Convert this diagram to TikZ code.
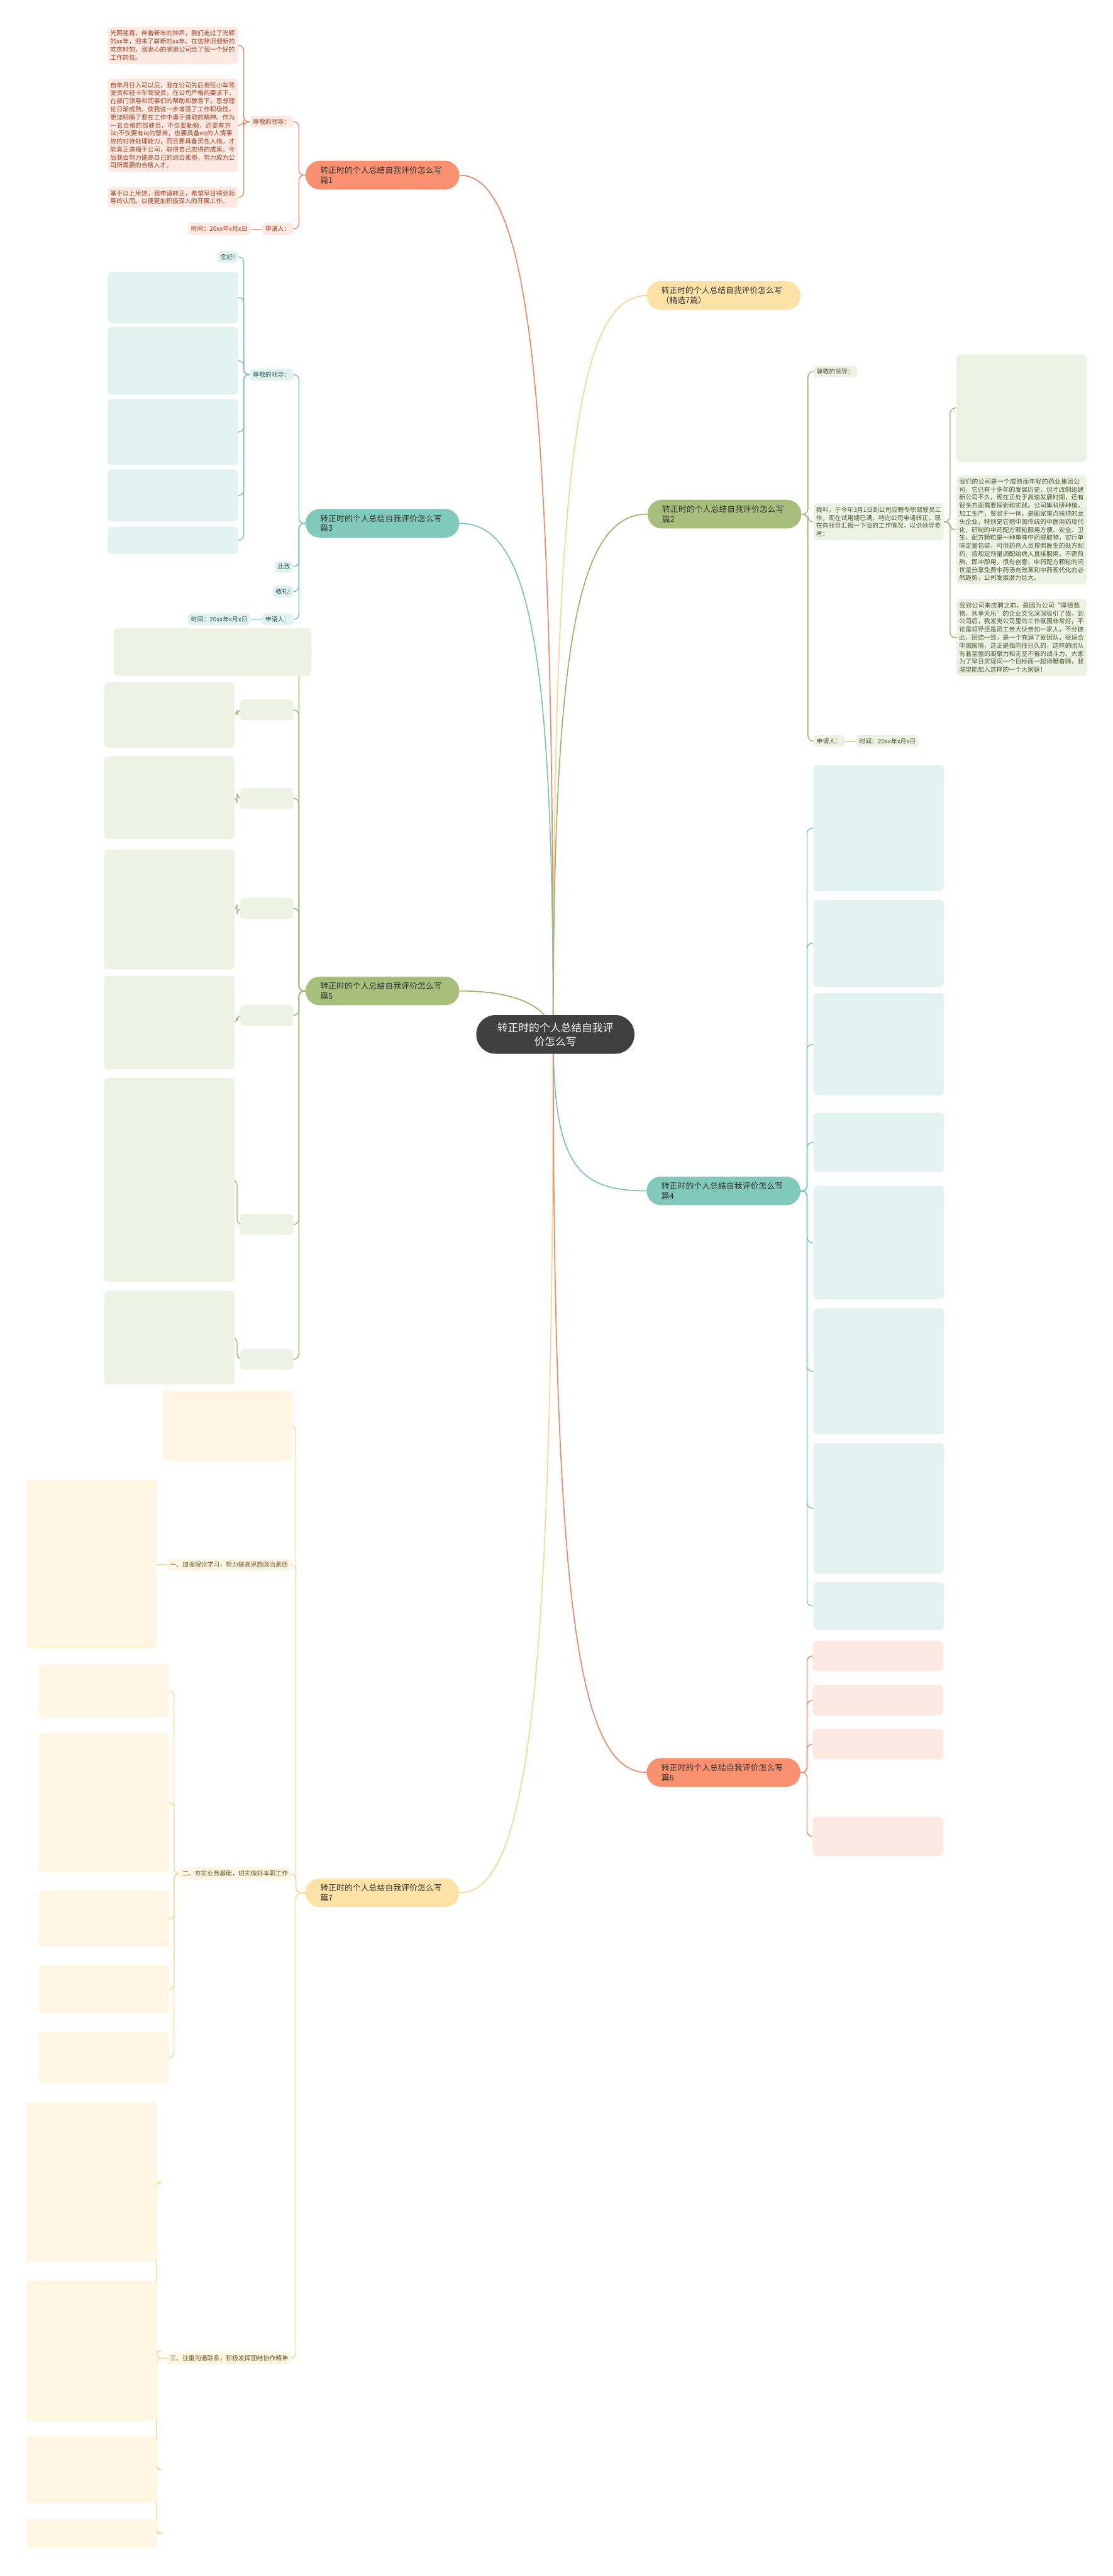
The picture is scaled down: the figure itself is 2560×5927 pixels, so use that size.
\documentclass[tikz,border=0pt]{standalone}
\usepackage{fontspec}
\setmainfont{Noto Sans CJK SC}
\XeTeXlinebreaklocale "zh"
\XeTeXlinebreakskip = 0pt plus 1pt
\usetikzlibrary{positioning,backgrounds}
\definecolor{corefill}{HTML}{404040}
\definecolor{salmonfill}{HTML}{F9906F}
\definecolor{salmonleaf}{HTML}{FDE9E2}
\definecolor{salmontext}{HTML}{9A3F1F}
\definecolor{salmonline}{HTML}{E98A6B}
\definecolor{tealfill}{HTML}{81C9BA}
\definecolor{tealleaf}{HTML}{E2F3EF}
\definecolor{tealtext}{HTML}{2E5E55}
\definecolor{tealline}{HTML}{7DC4B4}
\definecolor{greenfill}{HTML}{A7BF7A}
\definecolor{greenleaf}{HTML}{EEF2E5}
\definecolor{greentext}{HTML}{4B5A2E}
\definecolor{greenline}{HTML}{9CB46E}
\definecolor{yellowfill}{HTML}{FDE2A7}
\definecolor{yellowleaf}{HTML}{FEF5E2}
\definecolor{yellowtext}{HTML}{6E5425}
\definecolor{yellowline}{HTML}{F4D895}
\tikzset{
  coretopic/.style={fill=corefill, text=white, rounded corners=44, minimum width=364,
    minimum height=89, align=center, font=\fontsize{24.3}{32}\selectfont},
  branch/.style={rounded corners=33, minimum width=354, minimum height=66, text width=286,
    inner xsep=34, align=left, font=\fontsize{18.5}{23}\selectfont, text=black!80},
  leaf/.style={rounded corners=8, inner xsep=6, inner ysep=8, text width=288, align=left,
    font=\fontsize{14.3}{18.5}\selectfont},
  tag/.style={rounded corners=8, inner xsep=7, inner ysep=7, align=left,
    font=\fontsize{14.3}{18.5}\selectfont},
  salmonkid/.style={fill=salmonleaf, text=salmontext},
  tealkid/.style={fill=tealleaf, text=tealtext},
  greenkid/.style={fill=greenleaf, text=greentext},
  yellowkid/.style={fill=yellowleaf, text=yellowtext},
  link/.style={line width=2, rounded corners=12},
  trunk/.style={line width=2.5},
}
\begin{document}
\begin{tikzpicture}[x=1pt, y=-1pt]
\useasboundingbox (0,0) rectangle (2560,5927);
%% centre and main branches
\node[coretopic] (core) at (1278,2380) {转正时的个人总结自我评\\价怎么写};
\coordinate (hub) at (1273,2380);
\node[branch, fill=salmonfill] (part1) at (880,403) {转正时的个人总结自我评价怎么写篇1};
\node[branch, fill=tealfill] (part3) at (880,1204) {转正时的个人总结自我评价怎么写篇3};
\node[branch, fill=greenfill] (part5) at (880,2280) {转正时的个人总结自我评价怎么写篇5};
\node[branch, fill=yellowfill] (part7) at (880,4355) {转正时的个人总结自我评价怎么写篇7};
\node[branch, fill=yellowfill] (intro) at (1665,680) {转正时的个人总结自我评价怎么写\\（精选7篇）};
\node[branch, fill=greenfill] (part2) at (1667,1183) {转正时的个人总结自我评价怎么写篇2};
\node[branch, fill=tealfill] (part4) at (1665,2740) {转正时的个人总结自我评价怎么写篇4};
\node[branch, fill=salmonfill] (part6) at (1665,4078) {转正时的个人总结自我评价怎么写篇6};

%% part 1
\node[tag, salmonkid, anchor=east] (p1dear) at (675,280) {尊敬的领导：};
\node[leaf, salmonkid, anchor=north east] (p1a) at (548,62) {光阴荏苒，伴着新年的钟声，我们走过了光辉的xx年，迎来了崭新的xx年。在这辞旧迎新的欢庆时刻，我衷心的感谢公司给了我一个好的工作岗位。};
\node[leaf, salmonkid, anchor=north east] (p1b) at (548,181) {自年月日入司以后，我在公司先后担任小车驾驶员和轻卡车驾驶员。在公司严格的要求下，在部门领导和同事们的帮助和教育下，思想理论日渐成熟。使我进一步增强了工作积极性，更加明确了要在工作中勇于进取的精神。作为一名合格的驾驶员，不仅要勤勉，还要有方法;不仅要有iq的智商，也要具备eq的人情事故的对待处理能力，而且要具备灵性人格，才能真正造福于公司，取得自己应得的成果。今后我会努力提高自己的综合素质，努力成为公司所需要的合格人才。};
\node[leaf, salmonkid, anchor=north east] (p1c) at (548,430) {基于以上所述，我申请转正，希望早日得到领导的认同。以便更加积极深入的开展工作。};
\node[tag, salmonkid, anchor=east] (p1sign) at (675,527) {申请人：};
\node[tag, salmonkid, anchor=east] (p1date) at (577,527) {时间：20xx年x月x日};

%% part 3
\node[tag, tealkid, anchor=east] (p3dear) at (675,862) {尊敬的领导：};
\node[tag, tealkid, anchor=east] (p3hi) at (548,591) {您好!};
\node[tag, tealkid, anchor=east] (p3close) at (675,1304) {此致};
\node[tag, tealkid, anchor=east] (p3salute) at (675,1361) {敬礼!};
\node[tag, tealkid, anchor=east] (p3sign) at (675,1425) {申请人：};
\node[tag, tealkid, anchor=east] (p3date) at (577,1425) {时间：20xx年x月x日};

%% part 2
\node[tag, greenkid, anchor=west] (p2dear) at (1872,855) {尊敬的领导：};
\node[leaf, greenkid, anchor=north west] (p2me) at (1872,1158) {我叫，于今年3月1日到公司应聘专职驾驶员工作，现在试用期已满，特向公司申请转正，现在向领导汇报一下我的工作情况，以供领导参考：};
\node[leaf, greenkid, anchor=north west] (p2firm) at (2201,1093) {我们的公司是一个成熟而年轻的药业集团公司，它已有十多年的发展历史，但才改制组建新公司不久，现在正处于高速发展时期，还有很多方面需要探索和实践。公司集科研种植，加工生产，贸易于一体，是国家重点扶持的龙头企业，特别是它把中国传统的中医用药现代化，研制的中药配方颗粒服用方便、安全、卫生，配方颗粒是一种单味中药提取物，实行单味定量包装，可供药剂人员按照医生的处方配药，按规定剂量调配给病人直接服用，不需煎熬，即冲即用，很有创意，中药配方颗粒的问世是分享免费中药汤剂改革和中药现代化的必然趋势，公司发展潜力巨大。};
\node[leaf, greenkid, anchor=north west] (p2join) at (2201,1378) {我到公司来应聘之前，是因为公司“厚德载物，共享天乐”的企业文化深深吸引了我，到公司后，我发觉公司里的工作氛围非常好，不论是领导还是员工亲大伙亲如一家人，不分彼此，团结一致，是一个充满了爱团队，很适合中国国情，这正是我向往已久的，这样的团队有着至强的凝聚力和无坚不摧的战斗力，大家为了早日实现同一个目标而一起扬鞭奋蹄，我渴望能加入这样的一个大家庭！};
\node[tag, greenkid, anchor=west] (p2sign) at (1872,1705) {申请人：};
\node[tag, greenkid, anchor=west] (p2date) at (1970,1705) {时间：20xx年x月x日};

%% part 7
\node[tag, yellowkid, anchor=east] (p7one) at (670,3600) {一、加强理论学习，努力提高思想政治素质};
\node[tag, yellowkid, anchor=east] (p7two) at (670,4311) {二、夯实业务基础，切实做好本职工作};
\node[tag, yellowkid, anchor=east] (p7three) at (670,5426) {三、注重沟通联系，积极发挥团结协作精神};

%% boxes whose text is still to be filled
\foreach \leafname/\x/\y/\w/\h/\kind/\side in {
  p3a/548/625/300/118/tealkid/north east, p3b/548/752/300/156/tealkid/north east,
  p3c/548/918/300/152/tealkid/north east, p3d/548/1080/300/120/tealkid/north east,
  p3e/548/1212/300/62/tealkid/north east,
  p2work/2201/815/300/247/greenkid/north west,
  p5top/717/1445/455/110/greenkid/north east,
  p5one/675/1609/122/48/greenkid/north east, p5two/675/1813/122/48/greenkid/north east,
  p5three/675/2066/122/48/greenkid/north east, p5four/675/2312/122/48/greenkid/north east,
  p5five/675/2793/122/48/greenkid/north east, p5six/675/3103/122/48/greenkid/north east,
  p5a/540/1570/300/150/greenkid/north east, p5b/540/1740/300/190/greenkid/north east,
  p5c/540/1955/300/275/greenkid/north east, p5d/540/2245/300/215/greenkid/north east,
  p5e/540/2480/300/470/greenkid/north east, p5f/540/2970/300/215/greenkid/north east,
  p7intro/673/3200/300/161/yellowkid/north east, p7a/361/3404/300/389/yellowkid/north east,
  p7b/389/3830/300/120/yellowkid/north east, p7c/389/3987/300/321/yellowkid/north east,
  p7d/389/4351/300/128/yellowkid/north east, p7e/389/4521/300/111/yellowkid/north east,
  p7f/389/4675/300/119/yellowkid/north east,
  p7g/361/4837/300/367/yellowkid/north east, p7h/361/5247/300/324/yellowkid/north east,
  p7i/361/5605/300/154/yellowkid/north east, p7j/361/5796/300/65/yellowkid/north east,
  p4a/1872/1760/300/290/tealkid/north west, p4b/1872/2070/300/200/tealkid/north west,
  p4c/1872/2285/300/235/tealkid/north west, p4d/1872/2560/300/137/tealkid/north west,
  p4e/1872/2729/300/260/tealkid/north west, p4f/1872/3010/300/290/tealkid/north west,
  p4g/1872/3320/300/300/tealkid/north west, p4h/1872/3640/300/110/tealkid/north west,
  p6a/1870/3775/300/70/salmonkid/north west, p6b/1870/3877/300/70/salmonkid/north west,
  p6c/1870/3978/300/70/salmonkid/north west, p6d/1870/4180/300/90/salmonkid/north west} {
  \node[rounded corners=8, \kind, minimum width=\w, minimum height=\h, anchor=\side]
    (\leafname) at (\x,\y) {};
}

%% connectors
\begin{scope}[on background layer]
\fill[white] (0,0) rectangle (2560,5927);
\draw[trunk, salmonline] (hub) .. controls +(0,-1500) and +(160,0) .. (part1.east);
\draw[trunk, tealline] (hub) .. controls +(0,-900) and +(160,0) .. (part3.east);
\draw[trunk, greenline] (hub) .. controls +(-10,-70) and +(120,0) .. (part5.east);
\draw[trunk, yellowline] (hub) .. controls +(0,1500) and +(160,0) .. (part7.east);
\draw[trunk, yellowline] (hub) .. controls +(0,-1300) and +(-160,0) .. (intro.west);
\draw[trunk, greenline] (hub) .. controls +(0,-900) and +(-160,0) .. (part2.west);
\draw[trunk, tealline] (hub) .. controls +(0,300) and +(-160,0) .. (part4.west);
\draw[trunk, salmonline] (hub) .. controls +(0,1300) and +(-160,0) .. (part6.west);
\foreach \kid in {p1dear, p1sign}
  \draw[link, salmonline] (part1.west) -- ++(-15,0) |- (\kid.east);
\foreach \kid in {p1a, p1b, p1c}
  \draw[link, salmonline] (p1dear.west) -- ++(-14,0) |- (\kid.east);
\draw[link, salmonline] (p1sign.west) -- (p1date.east);
\foreach \kid in {p3dear, p3close, p3salute, p3sign}
  \draw[link, tealline] (part3.west) -- ++(-15,0) |- (\kid.east);
\foreach \kid in {p3hi, p3a, p3b, p3c, p3d, p3e}
  \draw[link, tealline] (p3dear.west) -- ++(-14,0) |- (\kid.east);
\draw[link, tealline] (p3sign.west) -- (p3date.east);
\foreach \kid in {p5top, p5one, p5two, p5three, p5four, p5five, p5six}
  \draw[link, greenline] (part5.west) -- ++(-15,0) |- (\kid.east);
\foreach \tagname/\kid in {p5one/p5a, p5two/p5b, p5three/p5c, p5four/p5d, p5five/p5e, p5six/p5f}
  \draw[link, greenline] (\tagname.west) -- ++(-7,0) |- (\kid.east);
\foreach \kid in {p7intro, p7one, p7two, p7three}
  \draw[link, yellowline] (part7.west) -- ++(-22,0) |- (\kid.east);
\draw[link, yellowline] (p7one.west) -- (p7a.east |- p7one.west);
\foreach \kid in {p7b, p7c, p7d, p7e, p7f}
  \draw[link, yellowline] (p7two.west) -- ++(-12,0) |- (\kid.east);
\foreach \kid in {p7g, p7h, p7i, p7j}
  \draw[link, yellowline] (p7three.west) -- ++(-24,0) |- (\kid.east);
\foreach \kid in {p2dear, p2me, p2sign}
  \draw[link, greenline] (part2.east) -- ++(15,0) |- (\kid.west);
\draw[link, greenline] (p2sign.east) -- (p2date.west);
\foreach \kid in {p2work, p2firm, p2join}
  \draw[link, greenline] (p2me.east) -- ++(14,0) |- (\kid.west);
\foreach \kid in {p4a, p4b, p4c, p4d, p4e, p4f, p4g, p4h}
  \draw[link, tealline] (part4.east) -- ++(15,0) |- (\kid.west);
\foreach \kid in {p6a, p6b, p6c, p6d}
  \draw[link, salmonline] (part6.east) -- ++(15,0) |- (\kid.west);
\end{scope}
\end{tikzpicture}
\end{document}
